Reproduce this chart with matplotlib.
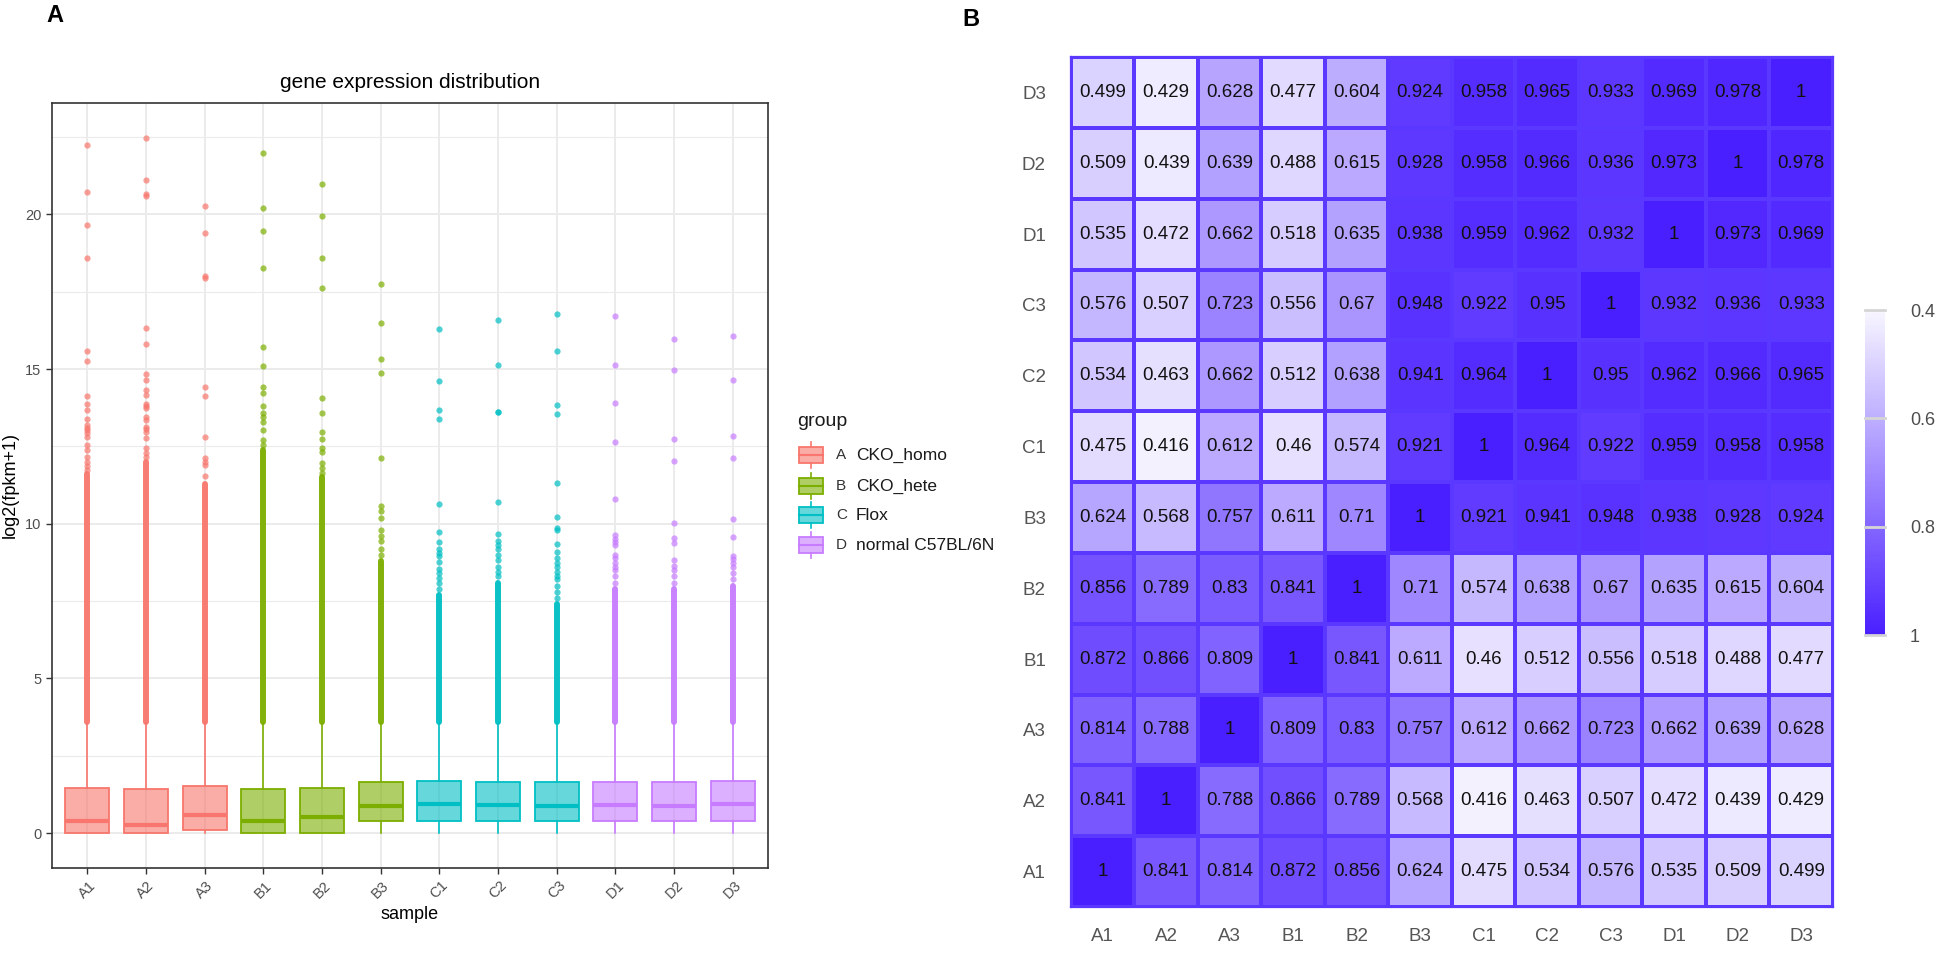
import numpy as np
import matplotlib
matplotlib.use("Agg")
import matplotlib.pyplot as plt
from matplotlib.colors import LinearSegmentedColormap
from matplotlib.patches import Rectangle

plt.rcParams["font.family"] = ["Liberation Sans", "DejaVu Sans"]

# --- datos del boxplot (panel A) ---
muestras = ["A1", "A2", "A3", "B1", "B2", "B3", "C1", "C2", "C3", "D1", "D2", "D3"]
grupo_de_muestra = ["A", "A", "A", "B", "B", "B", "C", "C", "C", "D", "D", "D"]
grupos = ["A", "B", "C", "D"]
nombres_grupo = ["CKO_homo", "CKO_hete", "Flox", "normal C57BL/6N"]
colores_grupo = {"A": "#F8766D", "B": "#7CAE00", "C": "#00BFC4", "D": "#C77CFF"}

q1 = [0.0, 0.0, 0.10, 0.0, 0.0, 0.38, 0.39, 0.39, 0.38, 0.39, 0.39, 0.40]
mediana = [0.38, 0.26, 0.59, 0.38, 0.53, 0.88, 0.94, 0.92, 0.89, 0.92, 0.89, 0.94]
q3 = [1.46, 1.43, 1.52, 1.43, 1.45, 1.65, 1.69, 1.66, 1.66, 1.65, 1.65, 1.68]
bigote_bajo = [0.0] * 12
bigote_alto = [3.55, 3.55, 3.6, 3.55, 3.55, 3.55, 3.55, 3.55, 3.55, 3.55, 3.55, 3.55]

# tramo de outliers tan densos que se ven como una barra continua
denso_desde = [3.6] * 12
denso_hasta = [11.6, 12.0, 11.3, 12.4, 11.5, 8.8, 7.7, 8.1, 7.4, 7.9, 7.9, 8.0]

# outliers sueltos por encima del tramo denso
outliers = {
    "A1": [22.23, 20.72, 19.67, 18.59, 15.57, 15.25, 14.13, 13.87, 13.68, 13.38, 13.19,
           13.11, 13.03, 12.93, 12.82, 12.54, 12.39, 12.15, 12.01, 11.87, 11.74],
    "A2": [22.48, 21.1, 20.65, 20.6, 16.34, 15.82, 14.83, 14.66, 14.34, 14.16, 13.87, 13.8,
           13.73, 13.46, 13.35, 13.14, 13.05, 12.98, 12.77, 12.44, 12.3, 12.17],
    "A3": [20.27, 19.39, 18.0, 17.95, 14.41, 14.14, 12.82, 12.12, 12.0, 11.9, 11.53],
    "B1": [21.97, 20.2, 19.47, 18.28, 15.72, 15.11, 14.43, 14.24, 13.82, 13.57, 13.45,
           13.3, 13.03, 12.71, 12.55],
    "B2": [20.98, 19.96, 18.6, 17.63, 14.08, 13.57, 12.98, 12.73, 12.44, 12.33, 11.96,
           11.8, 11.64],
    "B3": [17.74, 16.49, 15.32, 14.87, 12.12, 10.58, 10.4, 10.2, 9.81, 9.6, 9.45, 9.2, 9.0],
    "C1": [16.3, 14.61, 13.69, 13.38, 10.65, 9.73, 9.41, 9.2, 9.05, 8.95, 8.75, 8.55,
           8.4, 8.25, 8.1, 7.9],
    "C2": [16.58, 15.13, 13.62, 13.6, 10.7, 9.66, 9.44, 9.3, 9.2, 9.0, 8.84, 8.6, 8.45, 8.3],
    "C3": [16.78, 15.59, 13.83, 13.54, 11.32, 10.23, 9.88, 9.8, 9.34, 9.1, 8.89, 8.73,
           8.6, 8.45, 8.3, 8.2, 8.0, 7.8, 7.6],
    "D1": [16.71, 15.14, 13.91, 12.64, 10.79, 9.63, 9.5, 9.4, 9.3, 9.0, 8.9, 8.73, 8.6,
           8.5, 8.3, 8.1],
    "D2": [15.96, 14.98, 12.75, 12.02, 10.02, 9.54, 9.38, 8.84, 8.65, 8.5, 8.3, 8.1],
    "D3": [16.08, 14.66, 12.84, 12.12, 10.16, 9.57, 8.96, 8.85, 8.73, 8.6, 8.4, 8.2],
}

# --- datos del heatmap (panel B), filas/columnas en el orden de muestras ---
correlacion = np.array([
    [1, 0.841, 0.814, 0.872, 0.856, 0.624, 0.475, 0.534, 0.576, 0.535, 0.509, 0.499],
    [0.841, 1, 0.788, 0.866, 0.789, 0.568, 0.416, 0.463, 0.507, 0.472, 0.439, 0.429],
    [0.814, 0.788, 1, 0.809, 0.83, 0.757, 0.612, 0.662, 0.723, 0.662, 0.639, 0.628],
    [0.872, 0.866, 0.809, 1, 0.841, 0.611, 0.46, 0.512, 0.556, 0.518, 0.488, 0.477],
    [0.856, 0.789, 0.83, 0.841, 1, 0.71, 0.574, 0.638, 0.67, 0.635, 0.615, 0.604],
    [0.624, 0.568, 0.757, 0.611, 0.71, 1, 0.921, 0.941, 0.948, 0.938, 0.928, 0.924],
    [0.475, 0.416, 0.612, 0.46, 0.574, 0.921, 1, 0.964, 0.922, 0.959, 0.958, 0.958],
    [0.534, 0.463, 0.662, 0.512, 0.638, 0.941, 0.964, 1, 0.95, 0.962, 0.966, 0.965],
    [0.576, 0.507, 0.723, 0.556, 0.67, 0.948, 0.922, 0.95, 1, 0.932, 0.936, 0.933],
    [0.535, 0.472, 0.662, 0.518, 0.635, 0.938, 0.959, 0.962, 0.932, 1, 0.973, 0.969],
    [0.509, 0.439, 0.639, 0.488, 0.615, 0.928, 0.958, 0.966, 0.936, 0.973, 1, 0.978],
    [0.499, 0.429, 0.628, 0.477, 0.604, 0.924, 0.958, 0.965, 0.933, 0.969, 0.978, 1],
])
ticks_barra = [0.4, 0.6, 0.8, 1.0]
etiquetas_barra = ["0.4", "0.6", "0.8", "1"]

W, H = 1958, 960
fig = plt.figure(figsize=(W / 100, H / 100), dpi=100)

# ================= Panel A =================
ax = fig.add_axes([52 / W, 1 - 868 / H, 716 / W, 765 / H])
pos = np.arange(1, len(muestras) + 1)

stats = []
for i in range(len(muestras)):
    stats.append({"med": mediana[i], "q1": q1[i], "q3": q3[i],
                  "whislo": bigote_bajo[i], "whishi": bigote_alto[i], "fliers": []})
bp = ax.bxp(stats, positions=pos, widths=0.75, patch_artist=True,
            showfliers=False, showcaps=False)
for i, m in enumerate(muestras):
    c = colores_grupo[grupo_de_muestra[i]]
    bp["boxes"][i].set_facecolor(matplotlib.colors.to_rgba(c, 0.6))
    bp["boxes"][i].set_edgecolor(c)
    bp["boxes"][i].set_linewidth(1.3)
    bp["boxes"][i].set_zorder(3)
    bp["medians"][i].set_color(c)
    bp["medians"][i].set_linewidth(3.0)
    bp["medians"][i].set_zorder(4)
    for w in bp["whiskers"][2 * i:2 * i + 2]:
        w.set_color(c)
        w.set_linewidth(1.2)

    lc = ax.vlines(pos[i], denso_desde[i], denso_hasta[i], color=c, lw=4.3, alpha=0.95, zorder=2)
    lc.set_capstyle("round")
    ys = outliers[m]
    ax.plot(np.full(len(ys), pos[i]), ys, "o", ms=4.5, color=c, alpha=0.7, mec="none", zorder=2)

ax.set_xlim(0.4, 12.6)
ax.set_ylim(-1.125, 23.6)
ax.set_yticks([0, 5, 10, 15, 20])
ax.set_yticklabels(["0", "5", "10", "15", "20"])
ax.set_yticks([2.5, 7.5, 12.5, 17.5, 22.5], minor=True)
ax.set_xticks(pos)
ax.set_xticklabels(muestras, rotation=45, ha="center", va="top")
ax.tick_params(axis="both", which="major", length=4, width=1, color="#333333",
               labelcolor="#4D4D4D", labelsize=10.5)
ax.tick_params(axis="y", which="minor", length=0)
ax.grid(True, which="major", color="#EBEBEB", lw=1.4, zorder=0)
ax.grid(True, which="minor", axis="y", color="#EBEBEB", lw=0.8, zorder=0)
ax.set_axisbelow(True)
for s in ax.spines.values():
    s.set_color("#333333")
    s.set_linewidth(1.2)

ax.set_title("gene expression distribution", fontsize=15, pad=11)
ax.set_xlabel("sample", fontsize=13)
ax.xaxis.set_label_coords(0.5, -0.05)
ax.set_ylabel("log2(fpkm+1)", fontsize=13)
ax.yaxis.set_label_coords(-0.046, 0.5)

# ================= Panel B =================
cmap = LinearSegmentedColormap.from_list("blanco_azul", ["#F8F6FF", "#4A1FFF"])
hx = fig.add_axes([1071 / W, 1 - 907 / H, 762 / W, 850 / H])
hx.pcolormesh(np.arange(13), np.arange(13), correlacion, cmap=cmap, vmin=0.4, vmax=1,
              edgecolors="#5A38FF", linewidth=1.6)
for r in range(12):
    for c in range(12):
        v = correlacion[r, c]
        txt = "1" if v == 1 else f"{v:g}"
        hx.text(c + 0.5, r + 0.5, txt, ha="center", va="center", fontsize=13.5, color="#111111")
hx.set_xlim(0, 12)
hx.set_ylim(0, 12)
hx.set_xticks(np.arange(12) + 0.5)
hx.set_xticklabels(muestras)
hx.set_yticks(np.arange(12) + 0.5)
hx.set_yticklabels(muestras)
hx.tick_params(axis="x", length=0, pad=15, labelsize=13.5, labelcolor="#555555")
hx.tick_params(axis="y", length=0, pad=18, labelsize=13.5, labelcolor="#555555")
for s in hx.spines.values():
    s.set_color("#5A38FF")
    s.set_linewidth(1.6)

# barra de color
cax = fig.add_axes([1865 / W, 1 - 635 / H, 20 / W, 325 / H])
yy = np.linspace(0.4, 1.0, 201)
cax.pcolormesh([0, 1], yy, ((yy[:-1] + yy[1:]) / 2)[:, None], cmap=cmap, vmin=0.4, vmax=1)
cax.set_xlim(0, 1)
cax.set_ylim(1.0, 0.4)
for t in ticks_barra:
    cax.axhline(t, color="#D5D5D5", lw=2, clip_on=False)
cax.set_xticks([])
cax.yaxis.tick_right()
cax.set_yticks(ticks_barra)
cax.set_yticklabels(etiquetas_barra)
cax.tick_params(axis="y", length=0, pad=18, labelsize=13, labelcolor="#4D4D4D")
for s in cax.spines.values():
    s.set_visible(False)

# ================= leyenda y letras de panel =================
ov = fig.add_axes([0, 0, 1, 1])
ov.set_xlim(0, W)
ov.set_ylim(H, 0)
ov.axis("off")
ov.text(797, 422, "group", fontsize=14, ha="left", va="center", color="#1a1a1a")
filas_y = [455, 486, 515, 545]
for g, nombre, y in zip(grupos, nombres_grupo, filas_y):
    c = colores_grupo[g]
    ov.add_patch(Rectangle((799, y - 8), 24, 16, facecolor=matplotlib.colors.to_rgba(c, 0.6),
                           edgecolor=c, lw=1.3))
    ov.plot([799, 823], [y, y], color=c, lw=1.5)
    ov.plot([811, 811], [y - 13, y - 8], color=c, lw=1.2)
    ov.plot([811, 811], [y + 8, y + 13], color=c, lw=1.2)
    ov.text(836, y, g, fontsize=11, ha="left", va="center", color="#333333")
    ov.text(856, y, nombre, fontsize=12.5, ha="left", va="center", color="#1a1a1a")

ov.text(55, 16, "A", fontsize=17, fontweight="bold", ha="center", va="center")
ov.text(971, 19, "B", fontsize=17, fontweight="bold", ha="center", va="center")

fig.savefig("out.png", dpi=100)
